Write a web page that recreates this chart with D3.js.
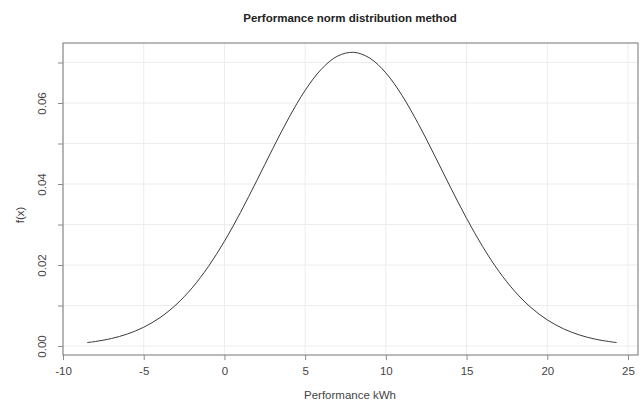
<!DOCTYPE html>
<html><head><meta charset="utf-8">
<script src="https://cdn.jsdelivr.net/npm/d3@7"></script>
<style>body{margin:0;background:#fff;}svg{display:block;font-family:"Liberation Sans",Arial,sans-serif;}</style>
</head><body>
<svg id="c" width="643" height="406"></svg>
<script>
const xValues = [-8.5,-8,-7,-6,-5,-4,-3,-2,-1,0,1,2,3,4,5,6,7,8,9,10,11,12,13,14,15,16,17,18,19,20,21,22,23,24,24.3];
const densities = [0.00085,0.00111,0.00185,0.00298,0.00463,0.00698,0.01018,0.01435,0.01959,0.02585,0.03302,0.04080,0.04877,0.05641,0.06312,0.06833,0.07157,0.07252,0.07109,0.06743,0.06188,0.05494,0.04719,0.03921,0.03152,0.02452,0.01845,0.01343,0.00946,0.00645,0.00425,0.00271,0.00167,0.00100,0.00085];
const xTicks = [-10,-5,0,5,10,15,20,25];
const yTicks = [0,0.01,0.02,0.03,0.04,0.05,0.06,0.07];
const yLabelTicks = [0,0.02,0.04,0.06];
const title = "Performance norm distribution method";
const xTitle = "Performance kWh";
const yTitle = "f(x)";

const svg = d3.select("#c");
const L=63,R=638,T=43,B=355;
const x = d3.scaleLinear().domain([-10,25]).range([63,628]);
const y = d3.scaleLinear().domain([0,0.07]).range([346,62.5]);

// grid
svg.append("g").selectAll("line").data(xTicks).join("line")
  .attr("x1",d=>x(d)).attr("x2",d=>x(d)).attr("y1",T).attr("y2",B)
  .attr("stroke","#ececec").attr("stroke-width",1);
svg.append("g").selectAll("line").data(yTicks).join("line")
  .attr("x1",L).attr("x2",R).attr("y1",d=>y(d)).attr("y2",d=>y(d))
  .attr("stroke","#ececec").attr("stroke-width",1);

// box
svg.append("rect").attr("x",L).attr("y",T).attr("width",R-L).attr("height",B-T)
  .attr("fill","none").attr("stroke","#8a8a8a").attr("stroke-width",1.2);

// x axis
const xa = svg.append("g").attr("transform",`translate(0,${B})`)
  .call(d3.axisBottom(x).tickValues(xTicks).tickSize(5).tickPadding(7).tickFormat(d=>String(d)));
xa.select(".domain").remove();
xa.selectAll("line").attr("stroke","#8a8a8a");
xa.selectAll("text").attr("fill","#444").style("font-size","11.5px");

// y axis
const ya = svg.append("g").attr("transform",`translate(${L},0)`)
  .call(d3.axisLeft(y).tickValues(yTicks).tickSize(5).tickFormat(d=>yLabelTicks.some(v=>Math.abs(v-d)<1e-9)?d3.format(".2f")(d):""));
ya.select(".domain").remove();
ya.selectAll("line").attr("stroke","#8a8a8a");
ya.selectAll(".tick").each(function(d){
  d3.select(this).select("text").attr("transform",`rotate(-90) translate(0,-21)`)
    .attr("x",0).attr("y",0).attr("dy","0.35em").attr("text-anchor","middle")
    .attr("fill","#444").style("font-size","11.5px");
});

// curve
const line = d3.line().x((d,i)=>x(xValues[i])).y(d=>y(d)).curve(d3.curveCatmullRom);
svg.append("path").attr("d",line(densities)).attr("fill","none").attr("stroke","#3a3a3a").attr("stroke-width",1);

// titles
svg.append("text").attr("x",350).attr("y",22).attr("text-anchor","middle")
  .style("font-size","11.5px").style("font-weight","bold").attr("fill","#222").text(title);
svg.append("text").attr("x",350).attr("y",399).attr("text-anchor","middle")
  .style("font-size","11.5px").attr("fill","#444").text(xTitle);
svg.append("text").attr("transform","translate(20,215) rotate(-90)").attr("text-anchor","middle")
  .attr("dy","0.35em").style("font-size","11.5px").attr("fill","#444").text(yTitle);
</script>
</body></html>
